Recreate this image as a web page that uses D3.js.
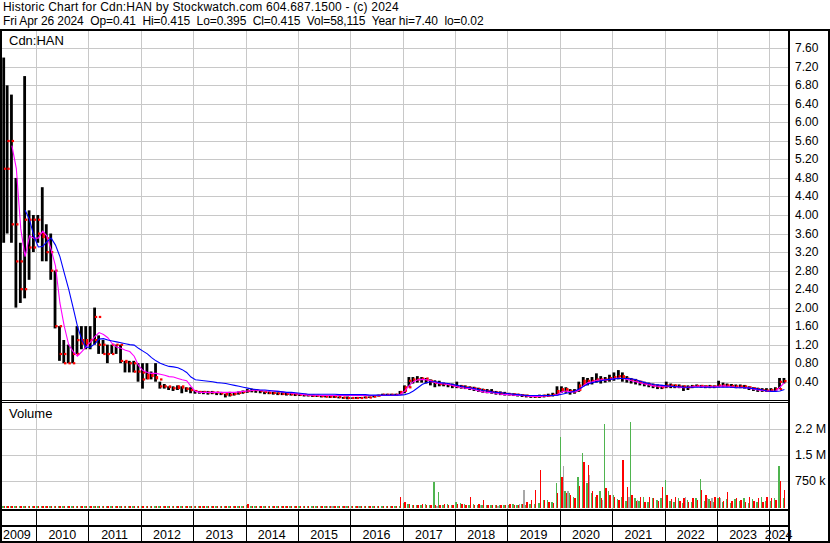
<!DOCTYPE html>
<html>
<head>
<meta charset="utf-8">
<script src="https://cdn.jsdelivr.net/npm/d3@7"></script>
<style>
  body { margin: 0; background: #fff; }
  svg { display: block; }
  text { font-family: "Liberation Sans", Arial, sans-serif; fill: #000; }
</style>
</head>
<body>
<div id="chart"></div>
<script>
// monthly bars, May 2009 .. Apr 2024 (one value per month)
const firstMonth = new Date(2009, 4, 1)

const hi = [
  7.4, 6.8, 6.6, 4.8, 3.4, 7.0, 4.1, 4.0,
  4.0, 4.6, 3.8, 3.6, 2.8, 1.6, 1.3, 1.2, 1.4, 1.6, 1.6, 1.6,
  1.6, 2.0, 1.4, 1.3, 1.2, 1.2, 1.2, 1.2, 0.85, 0.85, 0.85, 0.8,
  0.8, 0.8, 0.62, 0.8, 0.4, 0.35, 0.3, 0.3, 0.32, 0.3, 0.28, 0.28,
  0.22, 0.2, 0.2, 0.2, 0.2, 0.18, 0.18, 0.14, 0.18, 0.17, 0.19, 0.21,
  0.24, 0.25, 0.23, 0.21, 0.19, 0.19, 0.18, 0.17, 0.17, 0.16, 0.16, 0.15,
  0.14, 0.13, 0.12, 0.12, 0.11, 0.1, 0.1, 0.1, 0.09, 0.08, 0.07, 0.08,
  0.06, 0.07, 0.07, 0.08, 0.08, 0.1, 0.12, 0.14, 0.14, 0.14, 0.14, 0.2,
  0.32, 0.5, 0.5, 0.52, 0.5, 0.48, 0.45, 0.43, 0.42, 0.38, 0.37, 0.36,
  0.4, 0.33, 0.32, 0.3, 0.29, 0.27, 0.25, 0.24, 0.24, 0.2, 0.19, 0.18,
  0.16, 0.15, 0.14, 0.13, 0.12, 0.11, 0.11, 0.12, 0.12, 0.14, 0.16, 0.3,
  0.3, 0.28, 0.24, 0.24, 0.4, 0.5, 0.48, 0.5, 0.58, 0.52, 0.5, 0.55,
  0.6, 0.65, 0.6, 0.52, 0.48, 0.46, 0.42, 0.4, 0.38, 0.36, 0.34, 0.33,
  0.4, 0.36, 0.34, 0.34, 0.32, 0.32, 0.33, 0.34, 0.33, 0.32, 0.33, 0.32,
  0.42, 0.38, 0.36, 0.35, 0.34, 0.34, 0.33, 0.3, 0.28, 0.27, 0.26, 0.26,
  0.26, 0.28, 0.48, 0.48
]
const lo = [
  3.4, 3.6, 3.4, 2.0, 2.1, 2.2, 2.6, 3.2,
  3.4, 3.0, 3.0, 2.6, 1.55, 0.85, 0.8, 0.8, 0.8, 1.0, 1.1, 1.1,
  1.1, 1.2, 1.0, 1.0, 0.8, 1.0, 1.0, 0.8, 0.6, 0.6, 0.6, 0.4,
  0.25, 0.45, 0.45, 0.4, 0.25, 0.25, 0.22, 0.2, 0.22, 0.15, 0.18, 0.15,
  0.14, 0.14, 0.13, 0.12, 0.13, 0.11, 0.11, 0.06, 0.08, 0.1, 0.12, 0.14,
  0.16, 0.17, 0.16, 0.15, 0.13, 0.13, 0.12, 0.11, 0.11, 0.1, 0.1, 0.09,
  0.09, 0.08, 0.08, 0.07, 0.07, 0.06, 0.06, 0.05, 0.05, 0.04, 0.03, 0.02,
  0.03, 0.03, 0.04, 0.04, 0.05, 0.06, 0.08, 0.1, 0.1, 0.1, 0.1, 0.12,
  0.15, 0.28, 0.36, 0.38, 0.38, 0.36, 0.32, 0.28, 0.3, 0.3, 0.28, 0.26,
  0.26, 0.25, 0.24, 0.22, 0.2, 0.18, 0.16, 0.15, 0.14, 0.12, 0.11, 0.1,
  0.1, 0.09, 0.08, 0.07, 0.06, 0.05, 0.05, 0.05, 0.06, 0.07, 0.08, 0.1,
  0.16, 0.16, 0.12, 0.14, 0.18, 0.3, 0.32, 0.34, 0.38, 0.36, 0.38, 0.4,
  0.42, 0.45, 0.4, 0.38, 0.36, 0.34, 0.32, 0.3, 0.28, 0.26, 0.24, 0.24,
  0.26, 0.26, 0.26, 0.26, 0.2, 0.22, 0.26, 0.28, 0.27, 0.26, 0.26, 0.26,
  0.28, 0.28, 0.28, 0.27, 0.26, 0.26, 0.25, 0.22, 0.2, 0.18, 0.18, 0.18,
  0.18, 0.2, 0.24, 0.36
]
const cl = [
  5.0, 5.6, 3.8, 3.0, 2.4, 3.9, 3.3, 3.9,
  3.6, 3.5, 3.2, 2.8, 1.6, 1.0, 0.8, 0.8, 1.0, 1.3, 1.2, 1.3,
  1.3, 1.8, 1.2, 1.0, 1.0, 1.2, 1.2, 0.85, 0.8, 0.8, 0.62, 0.6,
  0.45, 0.55, 0.5, 0.45, 0.3, 0.3, 0.26, 0.24, 0.3, 0.25, 0.22, 0.2,
  0.18, 0.18, 0.17, 0.16, 0.17, 0.15, 0.15, 0.1, 0.12, 0.14, 0.16, 0.18,
  0.2, 0.22, 0.2, 0.18, 0.16, 0.16, 0.15, 0.14, 0.14, 0.13, 0.13, 0.12,
  0.12, 0.11, 0.1, 0.1, 0.09, 0.08, 0.08, 0.08, 0.07, 0.06, 0.05, 0.05,
  0.04, 0.05, 0.05, 0.06, 0.06, 0.08, 0.1, 0.12, 0.12, 0.12, 0.12, 0.18,
  0.28, 0.42, 0.45, 0.45, 0.47, 0.42, 0.38, 0.35, 0.35, 0.34, 0.32, 0.3,
  0.3, 0.28, 0.27, 0.26, 0.24, 0.22, 0.2, 0.18, 0.17, 0.15, 0.14, 0.13,
  0.13, 0.12, 0.11, 0.1, 0.09, 0.08, 0.08, 0.09, 0.1, 0.1, 0.12, 0.2,
  0.24, 0.2, 0.17, 0.2, 0.32, 0.42, 0.4, 0.42, 0.45, 0.42, 0.45, 0.48,
  0.5, 0.52, 0.47, 0.44, 0.42, 0.4, 0.36, 0.34, 0.32, 0.3, 0.28, 0.28,
  0.32, 0.32, 0.3, 0.3, 0.26, 0.28, 0.3, 0.31, 0.3, 0.29, 0.3, 0.3,
  0.32, 0.32, 0.31, 0.3, 0.29, 0.3, 0.28, 0.26, 0.24, 0.22, 0.21, 0.2,
  0.22, 0.24, 0.4, 0.415
]
// moving averages (magenta = short, blue = long)
const maShort = [
  null, null, 5.5, 5.0, 3.7, 3.1, 3.55, 3.5,
  3.5, 3.65, 3.55, 3.25, 2.9, 2.1, 1.6, 1.2, 1.05, 0.95, 1.05, 1.15,
  1.26, 1.38, 1.46, 1.42, 1.35, 1.22, 1.15, 1.12, 1.08, 1.05, 0.95, 0.75,
  0.64, 0.6, 0.58, 0.58, 0.56, 0.54, 0.51, 0.5, 0.47, 0.44, 0.42, 0.3,
  0.19, 0.17, 0.17, 0.17, 0.17, 0.17, 0.17, 0.17, 0.17, 0.17, 0.18, 0.19,
  0.2, 0.21, 0.22, 0.21, 0.2, 0.2, 0.2, 0.19, 0.18, 0.16, 0.15, 0.14,
  0.13, 0.12, 0.11, 0.11, 0.11, 0.1, 0.1, 0.1, 0.1, 0.1, 0.1, 0.1,
  0.1, 0.1, 0.1, 0.1, 0.1, 0.1, 0.1, 0.1, 0.1, 0.1, 0.1, 0.13,
  0.2, 0.32, 0.4, 0.44, 0.45, 0.44, 0.42, 0.38, 0.36, 0.35, 0.34, 0.32,
  0.29, 0.27, 0.26, 0.25, 0.23, 0.2, 0.18, 0.17, 0.16, 0.15, 0.13, 0.12,
  0.12, 0.11, 0.1, 0.1, 0.09, 0.08, 0.08, 0.08, 0.09, 0.09, 0.1, 0.12,
  0.18, 0.2, 0.18, 0.18, 0.22, 0.32, 0.38, 0.4, 0.43, 0.44, 0.44, 0.45,
  0.47, 0.48, 0.47, 0.45, 0.42, 0.4, 0.37, 0.35, 0.33, 0.31, 0.3, 0.29,
  0.29, 0.3, 0.29, 0.28, 0.27, 0.28, 0.29, 0.3, 0.3, 0.29, 0.29, 0.29,
  0.3, 0.31, 0.3, 0.29, 0.28, 0.28, 0.27, 0.26, 0.24, 0.22, 0.21, 0.2,
  0.19, 0.2, 0.28, 0.38
]
const maLong = [
  null, null, null, null, null, 4.1, 3.9, 3.55,
  3.31, 3.32, 3.42, 3.5, 3.35, 3.1, 2.75, 2.4, 2.0, 1.6, 1.3, 1.14,
  1.15, 1.22, 1.32, 1.33, 1.3, 1.28, 1.26, 1.24, 1.22, 1.2, 1.19, 1.12,
  1.06, 1.0, 0.92, 0.85, 0.8, 0.76, 0.73, 0.72, 0.7, 0.66, 0.6, 0.5,
  0.44, 0.43, 0.42, 0.41, 0.4, 0.38, 0.37, 0.36, 0.34, 0.32, 0.3, 0.28,
  0.26, 0.24, 0.23, 0.22, 0.22, 0.21, 0.2, 0.19, 0.18, 0.17, 0.17, 0.16,
  0.15, 0.14, 0.13, 0.13, 0.13, 0.13, 0.13, 0.13, 0.13, 0.12, 0.12, 0.12,
  0.12, 0.12, 0.12, 0.12, 0.11, 0.11, 0.11, 0.11, 0.11, 0.11, 0.11, 0.11,
  0.12, 0.15, 0.2, 0.27, 0.34, 0.38, 0.4, 0.4, 0.38, 0.37, 0.36, 0.34,
  0.32, 0.3, 0.28, 0.27, 0.25, 0.23, 0.21, 0.2, 0.18, 0.17, 0.16, 0.15,
  0.14, 0.13, 0.12, 0.11, 0.1, 0.1, 0.1, 0.1, 0.1, 0.1, 0.1, 0.11,
  0.13, 0.15, 0.17, 0.2, 0.24, 0.3, 0.35, 0.38, 0.4, 0.42, 0.44, 0.45,
  0.46, 0.47, 0.47, 0.47, 0.46, 0.44, 0.41, 0.38, 0.36, 0.34, 0.33, 0.32,
  0.31, 0.3, 0.29, 0.29, 0.28, 0.28, 0.28, 0.28, 0.28, 0.28, 0.28, 0.28,
  0.28, 0.28, 0.28, 0.28, 0.27, 0.27, 0.27, 0.26, 0.25, 0.24, 0.22, 0.2,
  0.19, 0.19, 0.2, 0.23
]
// volume, thousands of shares: up weeks (green), down weeks (red), unchanged (grey)
const volUp = [
  30, 40, 20, 30, 20, 30, 20, 20,
  20, 30, 20, 20, 30, 20, 20, 20, 20, 20, 20, 20,
  20, 20, 30, 20, 20, 20, 20, 20, 20, 20, 20, 20,
  30, 40, 20, 20, 20, 20, 20, 20, 20, 20, 20, 20,
  20, 20, 20, 20, 20, 20, 20, 20, 20, 20, 20, 20,
  60, 40, 20, 30, 20, 20, 20, 20, 20, 20, 30, 20,
  20, 20, 20, 20, 20, 20, 20, 20, 20, 20, 20, 20,
  20, 20, 20, 20, 20, 20, 20, 30, 20, 20, 20, 40,
  120, 80, 60, 60, 50, 80, 60, 720, 440, 60, 80, 60,
  150, 120, 80, 60, 80, 60, 60, 50, 60, 60, 60, 50,
  60, 80, 60, 80, 60, 80, 100, 120, 200, 200, 140, 680,
  2010, 450, 400, 300, 870, 1560, 680, 400, 300, 450, 2380, 470,
  350, 220, 300, 180, 2430, 250, 160, 300, 150, 260, 200, 260,
  770, 180, 150, 260, 120, 200, 150, 260, 800, 180, 240, 150,
  260, 150, 240, 120, 220, 180, 250, 120, 220, 150, 280, 160,
  180, 250, 1170, 250
]
const volDown = [
  30, 30, 40, 30, 30, 20, 20, 20,
  20, 20, 20, 30, 20, 20, 20, 20, 20, 20, 20, 20,
  20, 20, 20, 20, 20, 20, 20, 20, 20, 20, 20, 20,
  20, 20, 20, 20, 20, 20, 20, 20, 20, 20, 30, 20,
  20, 20, 20, 20, 20, 30, 20, 20, 20, 20, 20, 20,
  100, 40, 30, 20, 20, 20, 20, 20, 20, 20, 20, 20,
  20, 20, 20, 20, 20, 20, 20, 20, 20, 20, 20, 20,
  20, 20, 20, 20, 20, 20, 20, 20, 20, 20, 20, 290,
  150, 100, 60, 60, 100, 60, 60, 60, 50, 80, 60, 60,
  100, 80, 60, 300, 60, 80, 200, 60, 60, 60, 60, 60,
  80, 60, 60, 100, 150, 200, 490, 1060, 200, 150, 120, 400,
  870, 400, 350, 250, 600, 1300, 1200, 450, 350, 250, 540, 350,
  300, 200, 1350, 580, 350, 180, 300, 150, 300, 250, 160, 580,
  350, 220, 300, 180, 250, 140, 250, 200, 500, 350, 160, 300,
  300, 180, 440, 160, 260, 200, 150, 280, 180, 250, 140, 300,
  250, 200, 740, 500
]
const volFlat = [
  0, 0, 0, 0, 0, 0, 0, 0,
  0, 0, 0, 0, 0, 0, 0, 0, 0, 0, 0, 0,
  0, 0, 0, 0, 0, 0, 0, 0, 0, 0, 0, 0,
  0, 0, 0, 0, 0, 0, 0, 0, 0, 0, 0, 0,
  0, 0, 0, 0, 0, 0, 0, 0, 0, 0, 0, 0,
  0, 0, 0, 0, 0, 0, 0, 0, 0, 0, 0, 0,
  0, 0, 0, 0, 0, 0, 20, 20, 0, 0, 20, 0,
  0, 20, 0, 0, 0, 0, 0, 0, 0, 0, 0, 0,
  0, 0, 0, 0, 0, 0, 0, 30, 0, 0, 0, 0,
  0, 0, 0, 0, 0, 50, 0, 0, 0, 40, 0, 0,
  0, 0, 100, 490, 0, 0, 0, 0, 0, 0, 0, 0,
  1170, 470, 0, 0, 0, 0, 920, 0, 0, 200, 0, 0,
  0, 0, 0, 300, 0, 200, 0, 0, 0, 0, 0, 0,
  0, 0, 0, 0, 300, 0, 0, 0, 0, 250, 250, 0,
  250, 0, 0, 0, 0, 0, 0, 0, 0, 0, 0, 0,
  0, 0, 0, 0
]
const priceTicks = [0.4, 0.8, 1.2, 1.6, 2.0, 2.4, 2.8, 3.2, 3.6, 4.0, 4.4, 4.8, 5.2, 5.6, 6.0, 6.4, 6.8, 7.2, 7.6]
const volTicks = [750, 1500, 2250]
const volTickLabels = ["750 k", "1.5 M", "2.2 M"]
const headerLines = [
  "Historic Chart for Cdn:HAN by Stockwatch.com 604.687.1500 - (c) 2024",
  "Fri Apr 26 2024  Op=0.41  Hi=0.415  Lo=0.395  Cl=0.415  Vol=58,115  Year hi=7.40  lo=0.02"
]
const headerSpacing = [0.2, -0.09]

const width = 830, height = 543
const left = 2, right = 788
const priceTop = 31, priceBottom = 400
const volTop = 404, volBottom = 509

const months = hi.map((d, i) => d3.timeMonth.offset(firstMonth, i))

const x = d3.scaleTime()
  .domain([new Date(2009, 4, 8), new Date(2024, 4, 11)])
  .range([left, right])
const yP = d3.scaleLinear().domain([0, 7.6]).range([400.2, 48.3])
const yV = d3.scaleLinear().domain([0, 2250]).range([507, 428.5])

const svg = d3.select("#chart").append("svg")
  .attr("width", width)
  .attr("height", height)
svg.append("rect").attr("width", width).attr("height", height).attr("fill", "#fff")

const defs = svg.append("defs")
defs.append("clipPath").attr("id", "clipP").append("rect")
  .attr("x", left).attr("y", priceTop).attr("width", right - left).attr("height", priceBottom - priceTop)
defs.append("clipPath").attr("id", "clipV").append("rect")
  .attr("x", left).attr("y", volTop).attr("width", right - left).attr("height", volBottom - volTop)

// header
svg.append("g").selectAll("text").data(headerLines).join("text")
  .attr("x", 3)
  .attr("y", (d, i) => 10.5 + i * 14.5)
  .attr("font-size", 12)
  .attr("letter-spacing", (d, i) => headerSpacing[i])
  .style("white-space", "pre")
  .text(d => d)

// grid
const years = d3.timeYear.range(new Date(2010, 0, 1), new Date(2024, 1, 1))
const grid = svg.append("g").attr("stroke", "#c8c8c8").attr("stroke-width", 1).attr("shape-rendering", "crispEdges")
grid.selectAll(".hp").data(priceTicks).join("line")
  .attr("x1", left).attr("x2", right)
  .attr("y1", d => Math.round(yP(d)) + 0.5).attr("y2", d => Math.round(yP(d)) + 0.5)
grid.selectAll(".hv").data(volTicks).join("line")
  .attr("x1", left).attr("x2", right)
  .attr("y1", d => Math.round(yV(d)) + 0.5).attr("y2", d => Math.round(yV(d)) + 0.5)
grid.selectAll(".vp").data(years).join("line")
  .attr("x1", d => Math.round(x(d)) + 0.5).attr("x2", d => Math.round(x(d)) + 0.5)
  .attr("y1", priceTop).attr("y2", priceBottom)
grid.selectAll(".vv").data(years).join("line")
  .attr("x1", d => Math.round(x(d)) + 0.5).attr("x2", d => Math.round(x(d)) + 0.5)
  .attr("y1", volTop).attr("y2", volBottom)

svg.append("text").attr("x", 9).attr("y", 45).attr("font-size", 13).text("Cdn:HAN")
svg.append("text").attr("x", 9).attr("y", 418).attr("font-size", 13).text("Volume")

// volume bars
const gV = svg.append("g").attr("clip-path", "url(#clipV)").attr("shape-rendering", "crispEdges")
const volSeries = [
  { vals: volUp, color: "#4fb44f", off: 0.3 },
  { vals: volDown, color: "#ff0000", off: 1.7 },
  { vals: volFlat, color: "#a8a8a8", off: 3.0 }
]
volSeries.forEach(s => {
  gV.append("g").selectAll("rect")
    .data(months.map((m, i) => ({ m, v: s.vals[i] })).filter(d => d.v > 0))
    .join("rect")
    .attr("x", d => Math.max(x(d.m), left) + s.off)
    .attr("width", 1.4)
    .attr("y", d => yV(d.v))
    .attr("height", d => yV(0) - yV(d.v) + 1)
    .attr("fill", s.color)
})

// price bars: black high-low, red marks at open (prior close) and close
const bars = months.map((m, i) => ({
  x0: Math.max(x(m), left),
  hi: hi[i], lo: lo[i], cl: cl[i],
  op: i ? cl[i - 1] : cl[i]
}))
const gP = svg.append("g").attr("clip-path", "url(#clipP)")
gP.append("g").selectAll("rect").data(bars).join("rect")
  .attr("x", d => d.x0 + 0.3)
  .attr("width", 2.8)
  .attr("y", d => yP(d.hi))
  .attr("height", d => Math.max(1, yP(d.lo) - yP(d.hi)))
  .attr("fill", "#000")
const marks = []
bars.forEach(d => {
  const a = yP(Math.max(d.op, d.cl)), b = yP(Math.min(d.op, d.cl))
  if (b - a <= 6) marks.push({ x: d.x0, y: a - 1, h: Math.max(2.2, b - a + 1) })
  else {
    marks.push({ x: d.x0, y: yP(d.op) - 1, h: 2.2 })
    marks.push({ x: d.x0, y: yP(d.cl) - 1, h: 2.2 })
  }
})
gP.append("g").selectAll("rect").data(marks).join("rect")
  .attr("x", d => d.x + 1.9)
  .attr("width", 2.4)
  .attr("y", d => d.y)
  .attr("height", d => d.h)
  .attr("fill", "#ff0000")

const mid = m => x(d3.timeDay.offset(m, 15))
const line = d3.line()
  .defined(d => d.v != null)
  .x(d => mid(d.m))
  .y(d => yP(d.v))
gP.append("path")
  .datum(months.map((m, i) => ({ m, v: maShort[i] })))
  .attr("d", line).attr("fill", "none").attr("stroke", "#ff00ff").attr("stroke-width", 1.1)
gP.append("path")
  .datum(months.map((m, i) => ({ m, v: maLong[i] })))
  .attr("d", line).attr("fill", "none").attr("stroke", "#0000ff").attr("stroke-width", 1.1)

// right axis labels
svg.append("g").selectAll("text").data(priceTicks).join("text")
  .attr("x", 795)
  .attr("y", d => yP(d) + 4)
  .attr("font-size", 12)
  .text(d => d3.format(".2f")(d))
svg.append("g").selectAll("text").data(volTicks).join("text")
  .attr("x", 795)
  .attr("y", d => yV(d) + 4.5)
  .attr("font-size", 12.5)
  .text((d, i) => volTickLabels[i])

// frame and separators
const frame = svg.append("g").attr("fill", "#000").attr("shape-rendering", "crispEdges")
frame.append("rect").attr("x", 0).attr("y", 29).attr("width", width).attr("height", 2)
frame.append("rect").attr("x", 0).attr("y", 29).attr("width", 2).attr("height", height - 29)
frame.append("rect").attr("x", 788).attr("y", 29).attr("width", 2).attr("height", height - 29)
frame.append("rect").attr("x", 828).attr("y", 29).attr("width", 2).attr("height", height - 29)
frame.append("rect").attr("x", 0).attr("y", 400).attr("width", 789).attr("height", 1)
frame.append("rect").attr("x", 0).attr("y", 402).attr("width", 789).attr("height", 1)
frame.append("rect").attr("x", 0).attr("y", 509).attr("width", 789).attr("height", 2)
frame.append("rect").attr("x", 0).attr("y", 525).attr("width", 789).attr("height", 2)
frame.append("rect").attr("x", 0).attr("y", 541).attr("width", width).attr("height", 2)
frame.selectAll(".ys").data(years).join("rect")
  .attr("x", d => Math.round(x(d)))
  .attr("y", 511).attr("width", 1).attr("height", 30)

// year labels
const labelYears = d3.timeYear.range(new Date(2009, 0, 1), new Date(2024, 1, 1))
svg.append("g").selectAll("text").data(labelYears).join("text")
  .attr("x", (d, i) => {
    if (i === 0) return 3
    const a = Math.max(x(d), left), b = Math.min(x(d3.timeYear.offset(d, 1)), right)
    return (a + b) / 2
  })
  .attr("text-anchor", (d, i) => i === 0 ? "start" : "middle")
  .attr("y", 539)
  .attr("font-size", 12.5)
  .text(d => d.getFullYear())
</script>
</body>
</html>
